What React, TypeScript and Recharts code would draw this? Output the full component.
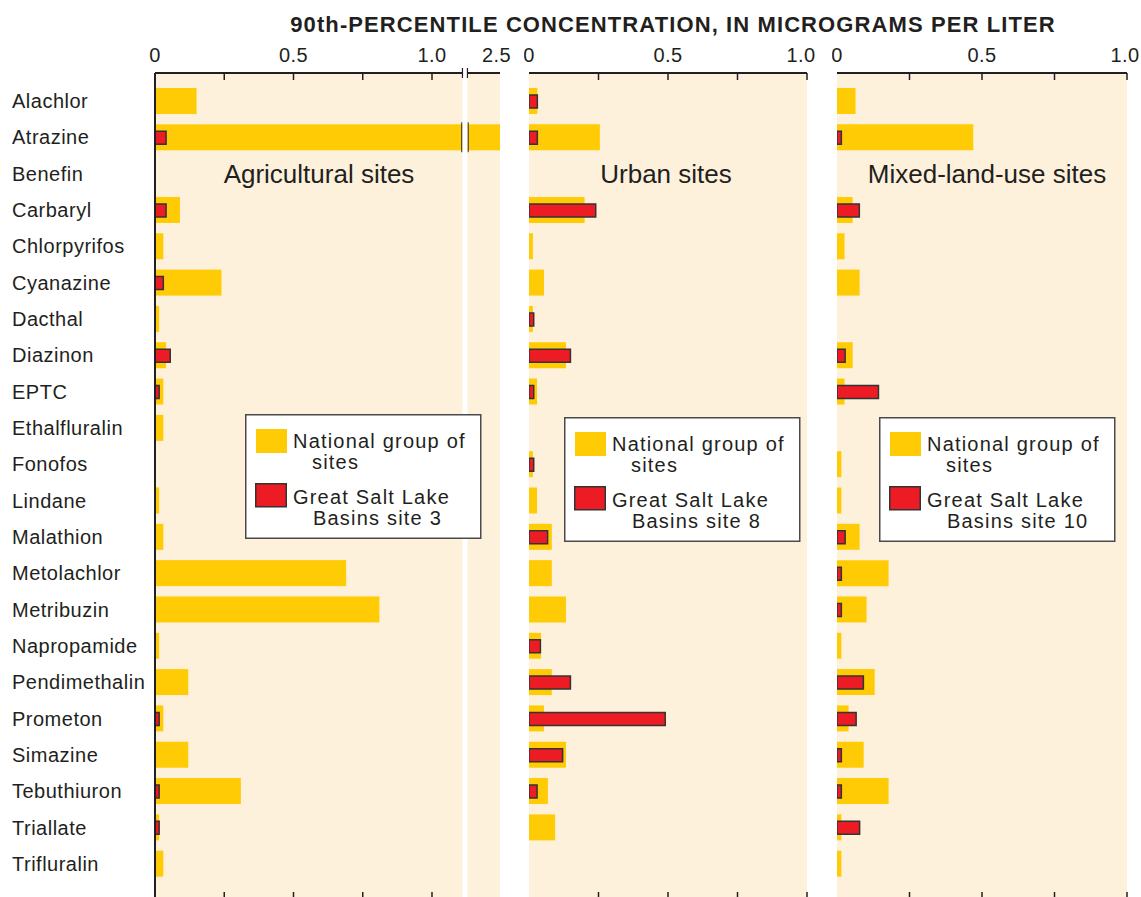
import React from 'react'
import { BarChart, Bar, XAxis, YAxis, CartesianGrid, Legend } from 'recharts'

const categories = [
  'Alachlor', 'Atrazine', 'Benefin', 'Carbaryl', 'Chlorpyrifos', 'Cyanazine', 'Dacthal',
  'Diazinon', 'EPTC', 'Ethalfluralin', 'Fonofos', 'Lindane', 'Malathion', 'Metolachlor',
  'Metribuzin', 'Napropamide', 'Pendimethalin', 'Prometon', 'Simazine', 'Tebuthiuron',
  'Triallate', 'Trifluralin',
]

// 90th-percentile concentrations, micrograms per liter (null = no bar)
const agNational = [0.15, 2.55, null, 0.09, 0.03, 0.24, 0.015, 0.04, 0.03, 0.03, null, 0.015, 0.03, 0.69, 0.81, 0.015, 0.12, 0.03, 0.12, 0.31, 0.015, 0.03]
const agSite3 = [null, 0.04, null, 0.04, null, 0.03, null, 0.055, 0.015, null, null, null, null, null, null, null, null, 0.015, null, 0.015, 0.015, null]

const urbanNational = [0.03, 0.255, null, 0.2, 0.014, 0.054, 0.014, 0.133, 0.029, null, 0.014, 0.029, 0.082, 0.082, 0.133, 0.043, 0.082, 0.054, 0.133, 0.068, 0.094, null]
const urbanSite8 = [0.03, 0.03, null, 0.24, null, null, 0.017, 0.149, 0.017, null, 0.017, null, 0.067, null, null, 0.041, 0.149, 0.49, 0.121, 0.029, null, null]

const mixedNational = [0.064, 0.47, null, 0.054, 0.026, 0.078, null, 0.054, 0.026, null, 0.015, 0.015, 0.078, 0.178, 0.102, 0.015, 0.13, 0.04, 0.092, 0.178, 0.015, 0.015]
const mixedSite10 = [null, 0.015, null, 0.077, null, null, null, 0.028, 0.143, null, null, null, 0.028, 0.015, 0.015, null, 0.091, 0.066, 0.015, 0.015, 0.078, null]

const tickValues = [0, 0.25, 0.5, 0.75, 1.0]
const agExtraTick = 2.5
const tickLabels: Record<string, string> = { '0': '0', '0.5': '0.5', '1': '1.0', '2.5': '2.5' }

const YELLOW = '#ffcb05'
const RED = '#ed1c24'
const INK = '#231f20'
const PANEL_BG = '#fef1dc'
const FONT = '"Liberation Sans", Arial, Helvetica, sans-serif'

const CHART_H = 900
const PLOT_TOP = 73
const PLOT_BOTTOM = 899
const TICK_LEN = 7
const LABEL_Y = 62

// agricultural axis is broken: 0..~1.1 linear, then a short segment holding 2.5
const AG_BREAK_LO = 1.11
const AG_BREAK_HI = 1.128
const AG_MAX = 1.2455
const AG_SEG_FROM = 2.25
const AG_SEG_TO = 2.55
const AG_PLOT_W = 345

function agAxis(v: number | null) {
  if (v == null) return null
  if (v <= AG_BREAK_LO) return v
  return AG_BREAK_HI + ((v - AG_SEG_FROM) / (AG_SEG_TO - AG_SEG_FROM)) * (AG_MAX - AG_BREAK_HI)
}

const rows = (nat: (number | null)[], site: (number | null)[], map = (v: number | null) => v) =>
  categories.map((name, i) => ({ name, nat: map(nat[i]), site: map(site[i]) }))

const agRows = rows(agNational, agSite3, agAxis)
const urbanRows = rows(urbanNational, urbanSite8)
const mixedRows = rows(mixedNational, mixedSite10)

type TickSpec = { at: number; label?: string; mark?: 'tick' | 'break'; dx?: number }

const plainSpecs = (dxLast = 0): TickSpec[] =>
  tickValues.map((v, i) => ({
    at: v,
    label: tickLabels[String(v)],
    mark: i === 0 ? undefined : 'tick',
    dx: i === tickValues.length - 1 ? dxLast : 0,
  }))

const agSpecs: TickSpec[] = [
  ...plainSpecs(),
  { at: AG_BREAK_LO, mark: 'break' },
  { at: agAxis(agExtraTick) as number, label: tickLabels['2.5'], dx: 2 },
]

const gapPx = ((AG_BREAK_HI - AG_BREAK_LO) * AG_PLOT_W) / AG_MAX

function makeTick(specs: TickSpec[]) {
  return function AxisTick(props: any) {
    const { x, payload } = props
    const spec = specs.find((s) => Math.abs(s.at - payload.value) < 1e-6)
    if (!spec) return <g />
    return (
      <g>
        {spec.mark === 'tick' && (
          <>
            <line x1={x} x2={x} y1={PLOT_TOP} y2={PLOT_TOP + TICK_LEN} stroke={INK} strokeWidth={1.5} />
            <line x1={x} x2={x} y1={PLOT_BOTTOM - TICK_LEN} y2={PLOT_BOTTOM} stroke={INK} strokeWidth={1.5} />
          </>
        )}
        {spec.mark === 'break' && (
          <>
            <rect x={x} y={PLOT_TOP - 3} width={gapPx} height={PLOT_BOTTOM - PLOT_TOP + 3} fill="#fff" />
            <line x1={x} x2={x} y1={PLOT_TOP - 5} y2={PLOT_TOP + 5} stroke={INK} strokeWidth={1.2} />
            <line x1={x + gapPx} x2={x + gapPx} y1={PLOT_TOP - 5} y2={PLOT_TOP + 5} stroke={INK} strokeWidth={1.2} />
          </>
        )}
        {spec.label && (
          <text x={x + (spec.dx ?? 0)} y={LABEL_Y} textAnchor="middle" fill={INK} fontSize={20} fontFamily={FONT} letterSpacing={0.4}>
            {spec.label}
          </text>
        )}
      </g>
    )
  }
}

const CategoryTick = (props: any) => (
  <text x={12} y={props.y} dy="0.35em" fill={INK} fontSize={20} fontFamily={FONT} letterSpacing={0.5}>
    {props.payload.value}
  </text>
)

// national bar on the broken axis gets cut at the break
const AgNationalBar = (props: any) => {
  const { x, y, width, height, payload } = props
  if (!width || width <= 0) return <g />
  const v = payload.nat
  if (v <= AG_BREAK_LO) return <rect x={x} y={y} width={width} height={height} fill={YELLOW} />
  const g1 = x + (width * AG_BREAK_LO) / v
  const g2 = x + (width * AG_BREAK_HI) / v
  return (
    <g>
      <rect x={x} y={y} width={width} height={height} fill={YELLOW} />
      <rect x={g1} y={y - 1} width={g2 - g1} height={height + 2} fill="#fff" />
      <line x1={g1 - 0.6} x2={g1 - 0.6} y1={y - 2} y2={y + height + 2} stroke={INK} strokeWidth={1.2} />
      <line x1={g2 + 0.6} x2={g2 + 0.6} y1={y - 2} y2={y + height + 2} stroke={INK} strokeWidth={1.2} />
    </g>
  )
}

function LegendBox({ site }: { site: string }) {
  const t = { fill: INK, fontSize: 20, fontFamily: FONT, letterSpacing: 1.2 }
  return (
    <svg width={237} height={125} style={{ display: 'block' }}>
      <rect x={0.75} y={0.75} width={235} height={123.5} fill="#fff" stroke="#4a4a4a" strokeWidth={1.5} />
      <rect x={11} y={15} width={31} height={24} fill={YELLOW} />
      <text {...t}>
        <tspan x={48} y={34}>National group of</tspan>
        <tspan x={67} y={54.5}>sites</tspan>
      </text>
      <rect x={10.75} y={69.75} width={30.5} height={23} fill={RED} stroke="#333" strokeWidth={1.5} />
      <text {...t}>
        <tspan x={48} y={90}>Great Salt Lake</tspan>
        <tspan x={68} y={110.5}>Basins site {site}</tspan>
      </text>
    </svg>
  )
}

type PanelProps = {
  left: number
  width: number
  marginLeft: number
  marginRight: number
  labelWidth: number
  data: any[]
  max: number
  specs: TickSpec[]
  legendAt: { left: number; top: number }
  site: string
  broken?: boolean
}

function Panel({ left, width, marginLeft, marginRight, labelWidth, data, max, specs, legendAt, site, broken }: PanelProps) {
  return (
    <div style={{ position: 'absolute', left, top: 0 }}>
      <BarChart
        width={width}
        height={CHART_H}
        data={data}
        layout="vertical"
        margin={{ top: PLOT_TOP - 30, right: marginRight, bottom: CHART_H - PLOT_BOTTOM, left: marginLeft }}
      >
        <CartesianGrid yAxisId="nat" horizontal={false} vertical={false} fill={PANEL_BG} fillOpacity={1} />
        <XAxis
          type="number"
          orientation="top"
          domain={[0, max]}
          ticks={specs.map((s) => s.at)}
          interval={0}
          allowDataOverflow
          height={30}
          tickLine={false}
          axisLine={{ stroke: INK, strokeWidth: 2 }}
          tick={makeTick(specs)}
        />
        <YAxis
          yAxisId="nat"
          type="category"
          dataKey="name"
          width={labelWidth}
          padding={{ top: 10, bottom: 17 }}
          tickLine={false}
          axisLine={{ stroke: INK, strokeWidth: 2 }}
          tick={labelWidth > 0 ? CategoryTick : false}
          interval={0}
        />
        <YAxis
          yAxisId="site"
          type="category"
          dataKey="name"
          orientation="right"
          width={0}
          padding={{ top: 10, bottom: 17 }}
          tickLine={false}
          tick={false}
          axisLine={{ stroke: INK, strokeWidth: 2.5 }}
        />
        <Bar
          dataKey="nat"
          yAxisId="nat"
          barSize={26}
          fill={YELLOW}
          isAnimationActive={false}
          shape={broken ? AgNationalBar : undefined}
        />
        <Bar
          dataKey="site"
          yAxisId="site"
          barSize={13}
          fill={RED}
          stroke="#333"
          strokeWidth={1.5}
          isAnimationActive={false}
        />
        <Legend
          layout="horizontal"
          verticalAlign="middle"
          align="center"
          wrapperStyle={{ left: legendAt.left, top: legendAt.top, width: 237, height: 125 }}
          content={() => <LegendBox site={site} />}
        />
      </BarChart>
    </div>
  )
}

const panelTitle = (text: string, center: number) => (
  <div
    style={{
      position: 'absolute',
      left: center - 160,
      width: 320,
      top: 161,
      textAlign: 'center',
      fontSize: 26,
      lineHeight: '26px',
      color: INK,
      whiteSpace: 'nowrap',
    }}
  >
    {text}
  </div>
)

export default function App() {
  return (
    <div
      style={{
        position: 'absolute',
        left: 0,
        top: 0,
        width: 1141,
        height: 897,
        overflow: 'hidden',
        background: '#fff',
        fontFamily: FONT,
      }}
    >
      <div
        style={{
          position: 'absolute',
          left: 223,
          width: 900,
          top: 14,
          textAlign: 'center',
          fontSize: 22,
          lineHeight: '22px',
          fontWeight: 'bold',
          letterSpacing: 1.1,
          color: INK,
          whiteSpace: 'nowrap',
        }}
      >
        90th-PERCENTILE CONCENTRATION, IN MICROGRAMS PER LITER
      </div>
      <Panel
        left={0}
        width={520}
        marginLeft={0}
        marginRight={20}
        labelWidth={155}
        data={agRows}
        max={AG_MAX}
        specs={agSpecs}
        legendAt={{ left: 245, top: 414 }}
        site="3"
        broken
      />
      <Panel
        left={524}
        width={308}
        marginLeft={5}
        marginRight={25}
        labelWidth={0}
        data={urbanRows}
        max={1}
        specs={plainSpecs(-6)}
        legendAt={{ left: 40, top: 417 }}
        site="8"
      />
      <Panel
        left={832}
        width={309}
        marginLeft={5}
        marginRight={14}
        labelWidth={0}
        data={mixedRows}
        max={1}
        specs={plainSpecs(-2)}
        legendAt={{ left: 47, top: 417 }}
        site="10"
      />
      {panelTitle('Agricultural sites', 319)}
      {panelTitle('Urban sites', 666)}
      {panelTitle('Mixed-land-use sites', 987)}
    </div>
  )
}
